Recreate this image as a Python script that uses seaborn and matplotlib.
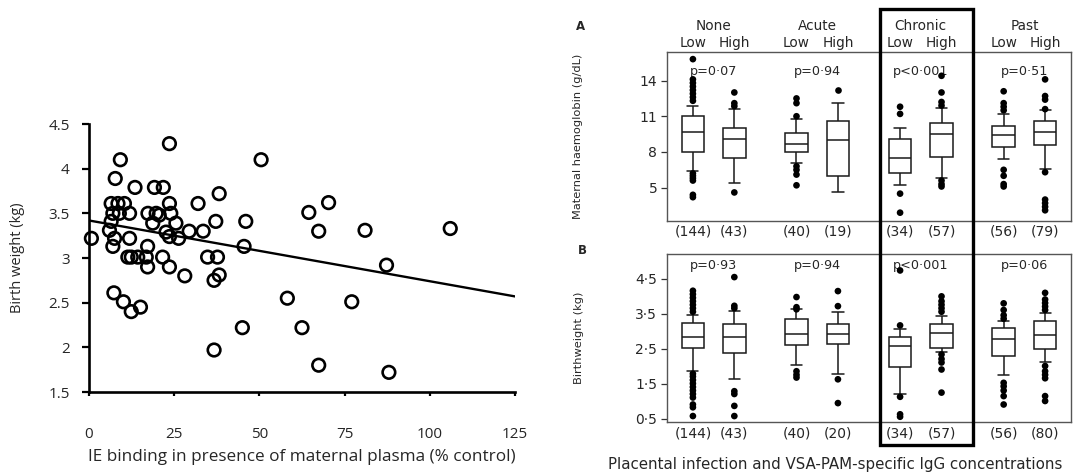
import numpy as np
import pandas as pd
import matplotlib
matplotlib.use("Agg")
import matplotlib.pyplot as plt
import seaborn as sns
from matplotlib.transforms import blended_transform_factory
from matplotlib.patches import Rectangle

# ---------------- data: left scatter ----------------
ie_binding = [0.7, 23.6, 9.2, 50.5, 7.7, 13.5, 19.2, 21.8, 38.2, 32.0, 70.3, 64.5, 46.0, 67.4,
              81.0, 106.0, 45.5, 87.3, 58.2, 77.1, 45.0, 62.5, 36.7, 67.4, 88.0, 37.2, 33.5,
              29.4, 34.8, 37.7, 38.2, 36.7, 28.1, 23.6, 21.6, 26.3, 23.6, 25.5, 24.0, 23.6,
              22.6, 20.6, 18.7, 17.3, 19.7, 17.2, 16.8, 17.2, 14.3, 12.4, 11.4, 11.9, 11.9,
              10.4, 8.5, 6.5, 7.0, 8.9, 6.5, 6.0, 7.5, 7.0, 7.3, 10.1, 12.4, 15.1]
birth_weight = [3.22, 4.28, 4.10, 4.10, 3.89, 3.79, 3.79, 3.79, 3.72, 3.61, 3.62, 3.51, 3.41, 3.30,
                3.31, 3.33, 3.13, 2.92, 2.55, 2.51, 2.22, 2.22, 1.97, 1.80, 1.72, 3.41, 3.30,
                3.30, 3.01, 3.01, 2.81, 2.75, 2.80, 2.90, 3.01, 3.22, 3.24, 3.39, 3.50, 3.61,
                3.29, 3.48, 3.39, 3.50, 3.50, 3.13, 3.01, 2.90, 3.01, 3.01, 3.01, 3.22, 3.50,
                3.61, 3.61, 3.61, 3.50, 3.50, 3.41, 3.31, 3.22, 3.13, 2.61, 2.51, 2.40, 2.45]
fit_x = [0, 125]
fit_y = [3.42, 2.57]
scatter_xticks = [0, 25, 50, 75, 100, 125]
scatter_yticks = [1.5, 2, 2.5, 3, 3.5, 4, 4.5]
scatter_yticklabels = ["1.5", "2", "2.5", "3", "3.5", "4", "4.5"]

# ---------------- data: box panels ----------------
groups = ["None", "Acute", "Chronic", "Past"]
levels = ["Low", "High"]

# order: None-Low, None-High, Acute-Low, Acute-High, Chronic-Low, Chronic-High, Past-Low, Past-High
hb_whisk_lo = [6.4, 5.4, 7.1, 4.6, 5.2, 5.8, 7.4, 6.6]
hb_q1 = [8.0, 7.5, 8.0, 6.0, 6.2, 7.6, 8.4, 8.6]
hb_med = [9.7, 9.05, 8.7, 9.0, 7.5, 9.5, 9.4, 9.7]
hb_q3 = [11.0, 10.0, 9.6, 10.6, 9.1, 10.4, 10.2, 10.6]
hb_whisk_hi = [11.9, 11.6, 10.8, 12.1, 10.0, 11.7, 11.2, 11.5]
hb_outliers = [
    [15.8, 14.1, 13.8, 13.5, 13.2, 12.9, 12.6, 12.3, 6.2, 6.0, 5.8, 5.6, 4.4, 4.2],
    [13.0, 12.1, 11.85, 4.6],
    [12.5, 12.1, 11.0, 6.8, 6.5, 6.1, 5.2],
    [13.2],
    [11.8, 11.2, 4.5, 2.9],
    [14.4, 13.0, 12.2, 11.9, 5.6, 5.3, 5.1],
    [13.1, 12.1, 11.8, 11.5, 6.5, 6.0, 5.3, 5.1],
    [14.1, 12.7, 12.4, 11.6, 6.3, 4.0, 3.7, 3.4, 3.1],
]
hb_n = ["(144)", "(43)", "(40)", "(19)", "(34)", "(57)", "(56)", "(79)"]
hb_p = ["p=0·07", "p=0·94", "p<0·001", "p=0·51"]
hb_yticks = [5, 8, 11, 14]

bw_whisk_lo = [1.86, 1.62, 2.02, 1.78, 1.19, 2.41, 1.74, 2.11]
bw_q1 = [2.52, 2.36, 2.60, 2.62, 1.97, 2.52, 2.30, 2.50]
bw_med = [2.84, 2.83, 2.92, 2.92, 2.56, 2.93, 2.76, 2.88]
bw_q3 = [3.22, 3.19, 3.35, 3.19, 2.84, 3.19, 3.09, 3.30]
bw_whisk_hi = [3.47, 3.57, 3.63, 3.54, 3.06, 3.43, 3.28, 3.52]
bw_outliers = [
    [4.15, 4.05, 3.95, 3.85, 3.75, 3.65, 3.55, 1.78, 1.70, 1.60, 1.50, 1.40, 1.30, 1.20, 1.10, 0.90, 0.82, 0.57],
    [4.54, 3.72, 3.65, 1.28, 1.20, 0.86, 0.57],
    [3.97, 3.68, 3.62, 1.85, 1.75, 1.67],
    [4.14, 3.71, 1.62, 0.94],
    [4.73, 3.16, 1.12, 0.62, 0.55],
    [3.99, 3.85, 3.75, 3.65, 3.55, 2.33, 2.20, 2.10, 1.90, 1.24],
    [3.79, 3.60, 3.45, 3.35, 1.52, 1.42, 1.30, 1.14, 0.90],
    [4.09, 3.90, 3.80, 3.70, 3.60, 2.00, 1.85, 1.75, 1.65, 1.14, 1.00],
]
bw_n = ["(144)", "(43)", "(40)", "(20)", "(34)", "(57)", "(56)", "(80)"]
bw_p = ["p=0·93", "p=0·94", "p<0·001", "p=0·06"]
bw_yticks = [0.5, 1.5, 2.5, 3.5, 4.5]
bw_yticklabels = ["0·5", "1·5", "2·5", "3·5", "4·5"]


def build_frames(wlo, q1, med, q3, whi, outs):
    rows, orows = [], []
    for i in range(len(wlo)):
        g, lv = groups[i // 2], levels[i % 2]
        for v in (wlo[i], q1[i], med[i], q3[i], whi[i]):
            rows.append((g, lv, v))
        for v in outs[i]:
            orows.append((g, lv, v))
    cols = ["group", "level", "value"]
    return pd.DataFrame(rows, columns=cols), pd.DataFrame(orows, columns=cols)


sns.set_theme(style="white")
plt.rcParams['font.family'] = ['DejaVu Sans']

W, H = 1077, 472
fig = plt.figure(figsize=(W / 100, H / 100), dpi=100)


def fx(px):
    return px / W


def fy(py):
    return 1 - py / H


# ---------------- left scatter ----------------
ax0 = fig.add_axes([fx(89), fy(392), fx(515) - fx(89), fy(124) - fy(392)])
sns.lineplot(x=fit_x, y=fit_y, color="black", linewidth=1.7, ax=ax0)
sns.scatterplot(x=ie_binding, y=birth_weight, ax=ax0, s=82, marker="o",
                color="black", facecolor="none", edgecolor="black", linewidth=1.9,
                zorder=3, clip_on=False)
ax0.set_xlim(0, 125)
ax0.set_ylim(1.5, 4.5)
ax0.set_xticks(scatter_xticks)
ax0.set_xticklabels([str(t) for t in scatter_xticks])
ax0.set_yticks(scatter_yticks)
ax0.set_yticklabels(scatter_yticklabels)
for s in ["top", "right"]:
    ax0.spines[s].set_visible(False)
for s in ["left", "bottom"]:
    ax0.spines[s].set_linewidth(1.9)
    ax0.spines[s].set_color("black")
lfont = ["Open Sans", "DejaVu Sans"]
ax0.tick_params(axis="y", direction="out", length=5, width=1.6, color="black",
                labelsize=11, pad=9, left=True)
ax0.tick_params(axis="x", direction="out", length=3, width=1.6, color="black",
                labelsize=11, pad=22, bottom=True)
for lab in ax0.get_xticklabels() + ax0.get_yticklabels():
    lab.set_family(lfont)
ax0.set_xlabel("IE binding in presence of maternal plasma (% control)", fontsize=12.3, family=lfont)
ax0.set_ylabel("Birth weight (kg)", fontsize=10.5, family=lfont)
ax0.xaxis.set_label_coords(0.5, -(457 - 392) / 268)
ax0.xaxis.label.set_va("center")
ax0.yaxis.set_label_coords(-(89 - 18) / 426, 0.5)
ax0.yaxis.label.set_va("center")
ax0.grid(False)


# ---------------- box panels ----------------
def box_panel(ax, wlo, q1, med, q3, whi, outs, ylim, yticks, yticklabels, ylabel, nlabels,
              pvals, p_y, show_heads, nlab_pad):
    df, dfo = build_frames(wlo, q1, med, q3, whi, outs)
    sns.boxplot(data=df, x="group", y="value", hue="level", order=groups, hue_order=levels,
                whis=(0, 100), width=0.8, gap=0.46, palette={"Low": "white", "High": "white"},
                linecolor="#1a1a1a", linewidth=1.1, showfliers=False, legend=False, ax=ax)
    sns.stripplot(data=dfo, x="group", y="value", hue="level", order=groups, hue_order=levels,
                  dodge=True, jitter=False, palette={"Low": "black", "High": "black"},
                  size=4.8, linewidth=0, legend=False, ax=ax, zorder=4)
    ax.set_xlim(-0.45, 3.45)
    ax.set_ylim(*ylim)
    pos = []
    for g in range(4):
        pos += [g - 0.2, g + 0.2]
    ax.set_xticks(pos)
    ax.set_xticklabels(nlabels, fontsize=10)
    ax.set_yticks(yticks)
    ax.set_yticklabels(yticklabels, fontsize=10)
    ax.tick_params(axis="x", length=0, pad=nlab_pad)
    ax.tick_params(axis="y", direction="out", length=4, width=0.9, color="#333333", pad=3,
                   left=True)
    for s in ax.spines.values():
        s.set_color("#555555")
        s.set_linewidth(1.0)
    ax.set_xlabel("")
    ax.set_ylabel(ylabel, fontsize=8.2)
    ax.grid(False)
    tr = blended_transform_factory(ax.transData, ax.transAxes)
    for g, p in enumerate(pvals):
        ax.text(g, p_y, p, transform=tr, ha="center", va="center", fontsize=9.2)
    if show_heads:
        h = ax.get_position().height * H
        for g, name in enumerate(groups):
            ax.text(g, 1 + 26 / h, name, transform=tr, ha="center", va="center",
                    fontsize=9.8, clip_on=False)
            ax.text(g - 0.2, 1 + 9 / h, "Low", transform=tr, ha="center", va="center",
                    fontsize=9.8, clip_on=False)
            ax.text(g + 0.2, 1 + 9 / h, "High", transform=tr, ha="center", va="center",
                    fontsize=9.8, clip_on=False)


axA = fig.add_axes([fx(667), fy(221), fx(1071) - fx(667), fy(52) - fy(221)])
box_panel(axA, hb_whisk_lo, hb_q1, hb_med, hb_q3, hb_whisk_hi, hb_outliers,
          (2.2, 16.4), hb_yticks, [str(t) for t in hb_yticks],
          "Maternal haemoglobin (g/dL)", hb_n, hb_p, 1 - 19 / 169, True, 2.5)
axA.yaxis.set_label_coords(-(667 - 583) / 404, 0.5)

axB = fig.add_axes([fx(667), fy(422), fx(1071) - fx(667), fy(254) - fy(422)])
box_panel(axB, bw_whisk_lo, bw_q1, bw_med, bw_q3, bw_whisk_hi, bw_outliers,
          (0.4, 5.2), bw_yticks, bw_yticklabels,
          "Birthweight (kg)", bw_n, bw_p, 1 - 11 / 168, False, 3.5)
axB.yaxis.set_label_coords(-(667 - 584) / 404, 0.5)

fig.text(fx(581), fy(26), "A", fontsize=8.5, fontweight="bold", ha="center", va="center")
fig.text(fx(582), fy(250), "B", fontsize=8.5, fontweight="bold", ha="center", va="center")
fig.text(fx(835), fy(465), "Placental infection and VSA-PAM-specific IgG concentrations",
         fontsize=10.8, ha="center", va="center")

fig.add_artist(Rectangle((fx(880), fy(445)), fx(973) - fx(880), fy(9) - fy(445),
                         transform=fig.transFigure, fill=False, linewidth=2.4,
                         edgecolor="black", zorder=10))

fig.savefig("out.png", dpi=100, facecolor="white")
